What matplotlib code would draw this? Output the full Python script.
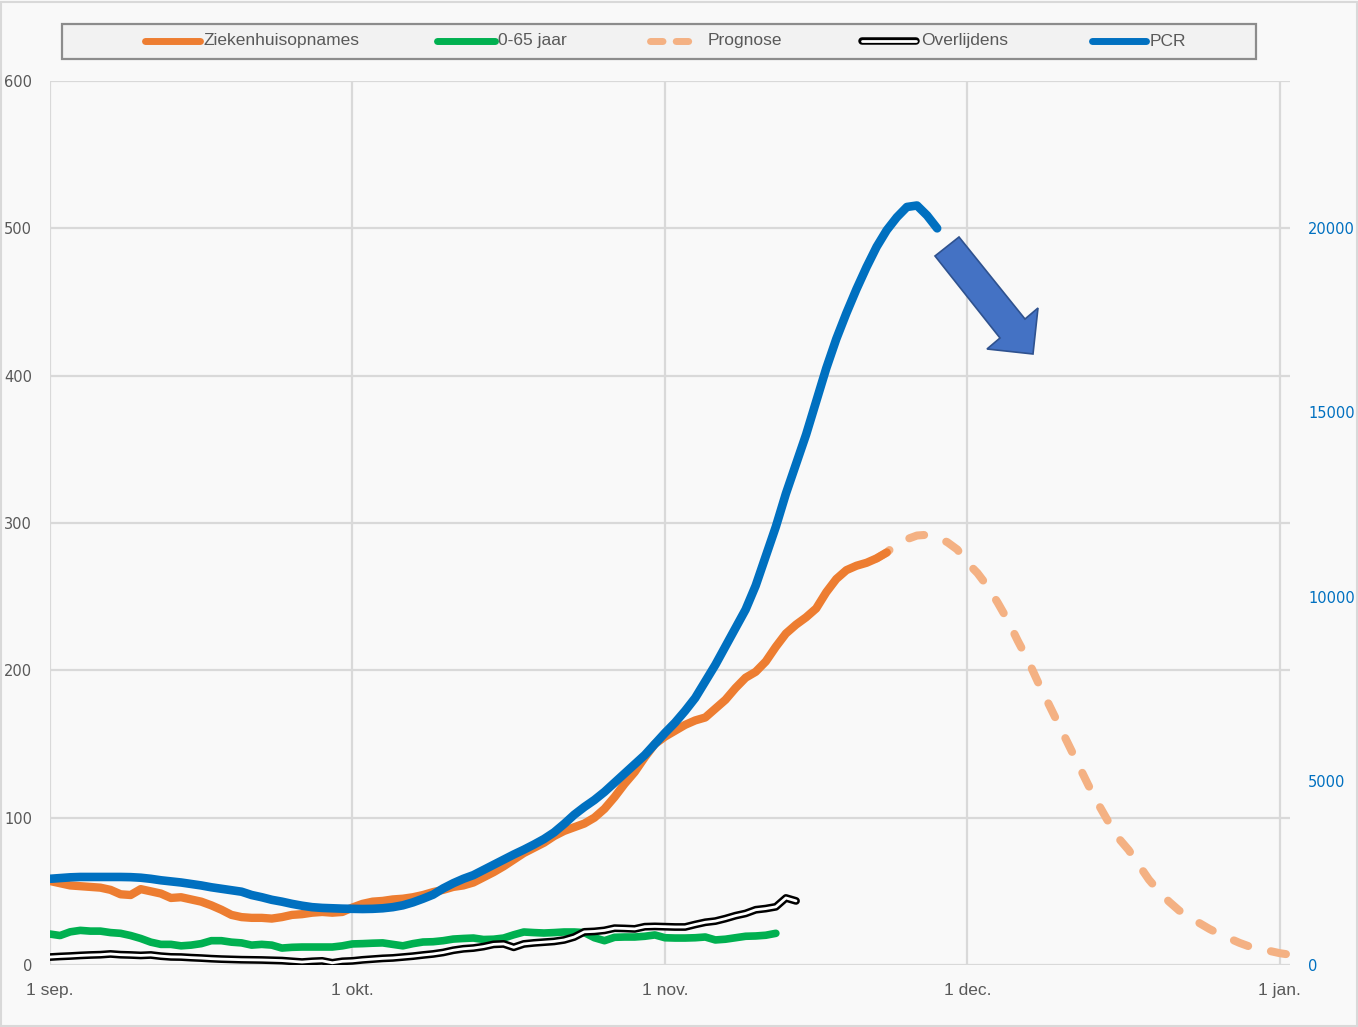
import numpy as np
import matplotlib
matplotlib.use("Agg")
import matplotlib.pyplot as plt
import matplotlib.patheffects as pe
from matplotlib.lines import Line2D
from matplotlib.patches import Polygon, Rectangle

# ── Data (day 0 = 1 sep.) ────────────────────────────────────────────────────
month_ticks = [0, 30, 61, 91, 122]
month_labels = ["1 sep.", "1 okt.", "1 nov.", "1 dec.", "1 jan."]

ziekenhuis = [
    57, 55.5, 54, 53.5, 53, 52.5, 51, 48, 47.5, 51.5,
    50, 48.5, 45.5, 46, 44.5, 43, 40.5, 37.5, 34, 32.5,
    32, 32, 31.5, 32.5, 34, 34.5, 35.5, 36, 35.5, 36,
    39, 41.5, 43, 43.5, 44.5, 45, 46, 47.5, 49.5, 51,
    53, 54, 56, 59.5, 63, 67, 71.5, 76, 79.5, 83,
    87.5, 91, 93.5, 96, 100, 106, 114, 123, 131, 141,
    150, 155, 159, 163, 166, 168, 174, 180, 188, 195,
    199, 206, 216, 225, 231, 236, 242, 253, 262, 268,
    271, 273, 276, 280,
]

prognose_start = 82
prognose = [
    276, 280, 286, 289, 291.5, 292, 290, 287, 282, 273,
    266, 257, 246, 234, 220, 207, 192, 178, 164, 150,
    136, 122, 109, 97, 86, 78, 68, 58, 50, 43,
    37, 33, 28.5, 24.5, 21, 18, 15, 12.5, 11, 9.5,
    8, 7,
]

jonger_65 = [
    21, 20, 22.5, 23.5, 23, 23, 22, 21.5, 20, 18,
    15.5, 14, 14, 13, 13.5, 14.5, 16.5, 16.5, 15.5, 15,
    13.5, 14, 13.5, 11.5, 12, 12.2, 12.2, 12.2, 12.2, 13,
    14.3, 14.5, 14.8, 15, 14, 13, 14.5, 15.6, 15.8, 16.5,
    17.6, 18, 18.3, 17.3, 17.5, 18.3, 20.5, 22.4, 22, 21.7,
    22, 22.4, 22.4, 22, 18.5, 16.5, 18.8, 19, 19, 19.5,
    20.4, 18.5, 18.3, 18.3, 18.5, 19, 17, 17.5, 18.5, 19.5,
    19.7, 20.2, 21.5,
]

overlijdens = [
    5.4, 5.8, 6.1, 6.5, 6.8, 7, 7.5, 7, 6.8, 6.5,
    6.8, 6, 5.5, 5.4, 5, 4.7, 4.3, 4, 3.8, 3.6,
    3.5, 3.4, 3.2, 3, 2.5, 2, 2.5, 2.8, 1.5, 2.5,
    2.8, 3.5, 4, 4.5, 4.8, 5.4, 6, 6.8, 7.5, 8.5,
    10, 11, 11.5, 12.5, 14, 14.3, 12, 14.3, 15, 15.5,
    16, 17, 19, 22.5, 22.8, 23.5, 25, 24.8, 24.5, 26,
    26.2, 26, 25.8, 25.8, 27.5, 29, 29.8, 31.5, 33.5, 35,
    37.5, 38.3, 39.5, 45.5, 43.5,
]

pcr = [
    2340, 2360, 2380, 2390, 2390, 2390, 2390, 2390, 2385, 2370,
    2340, 2300, 2270, 2240, 2200, 2160, 2110, 2070, 2030, 1990,
    1900, 1840, 1770, 1720, 1660, 1610, 1570, 1550, 1540, 1530,
    1525, 1520, 1525, 1540, 1570, 1620, 1700, 1800, 1910, 2080,
    2220, 2340, 2440, 2580, 2720, 2860, 3000, 3130, 3270, 3420,
    3600, 3830, 4080, 4290, 4480, 4700, 4950, 5200, 5450, 5700,
    6000, 6300, 6580, 6900, 7250, 7700, 8150, 8650, 9150, 9650,
    10300, 11100, 11900, 12800, 13600, 14400, 15300, 16200, 17000, 17700,
    18350, 18950, 19500, 19950, 20300, 20580, 20620, 20350, 20000,
]

# ── Colours ──────────────────────────────────────────────────────────────────
C_ORANGE = "#ED7D31"
C_PROG = "#F4B183"
C_GREEN = "#00B050"
C_BLUE = "#0070C0"
C_GRID = "#D9D9D9"
C_TEXT = "#595959"
BG = "#F9F9F9"
NARROW = ["Liberation Sans", "DejaVu Sans"]

W, H = 1358, 1027


def fx(px):
    return px / W


def fy(py):
    return 1 - py / H


fig = plt.figure(figsize=(W / 100, H / 100), dpi=100)
fig.patch.set_facecolor(BG)

ax = fig.add_axes([fx(50), fy(965), fx(1290) - fx(50), fy(81) - fy(965)])
ax.set_facecolor(BG)
ax2 = ax.twinx()
ax2.patch.set_visible(False)

for a in (ax, ax2):
    for s in a.spines.values():
        s.set_visible(False)

ax.set_xlim(0, 123)
ax.set_ylim(0, 600)
ax2.set_ylim(0, 24000)

# grid
ax.set_yticks(np.arange(0, 601, 100))
ax.set_xticks(month_ticks)
ax.grid(True, color=C_GRID, linewidth=1.6)
ax.set_axisbelow(True)

ax.set_xticklabels(month_labels, family=NARROW, fontsize=12.5, color=C_TEXT)
ax.tick_params(axis="x", length=0, pad=13)
ax.tick_params(axis="y", length=0, pad=13, labelsize=10.5, labelcolor=C_TEXT)

ax2.set_yticks(np.arange(0, 20001, 5000))
ax2.tick_params(axis="y", length=0, pad=13, labelsize=10.5, labelcolor=C_BLUE)

# ── Series ───────────────────────────────────────────────────────────────────
d_zkh = np.arange(len(ziekenhuis))
d_prog = np.arange(prognose_start, prognose_start + len(prognose))
d_green = np.arange(len(jonger_65))
d_dead = np.arange(len(overlijdens))
d_pcr = np.arange(len(pcr))

ax.plot(d_prog, prognose, color=C_PROG, lw=5.8, linestyle=(0, (1.9, 2.9)),
        dash_capstyle="round", zorder=3)
ax.plot(d_zkh, ziekenhuis, color=C_ORANGE, lw=6, solid_capstyle="round",
        solid_joinstyle="round", zorder=4)
ax.plot(d_green, jonger_65, color=C_GREEN, lw=5.5, solid_capstyle="round",
        solid_joinstyle="round", zorder=4)
ax.plot(d_dead, overlijdens, color="white", lw=2.0, solid_capstyle="round",
        path_effects=[pe.Stroke(linewidth=5.6, foreground="black",
                                capstyle="round", joinstyle="round"),
                      pe.Normal()], zorder=5)
ax2.plot(d_pcr, pcr, color=C_BLUE, lw=6.2, solid_capstyle="round",
         solid_joinstyle="round", zorder=6)

# ── Block arrow ──────────────────────────────────────────────────────────────
arrow_px = [(935, 256), (959, 237), (1025, 319), (1038, 308),
            (1033, 354), (987, 349), (1000, 338)]
fig.add_artist(Polygon([(fx(x), fy(y)) for x, y in arrow_px], closed=True,
                       transform=fig.transFigure, facecolor="#4472C4",
                       edgecolor="#2F528F", lw=1.2, zorder=10))

# ── Legend (drawn by hand to match spacing) ──────────────────────────────────
fig.add_artist(Rectangle((fx(62), fy(59)), fx(1256) - fx(62), fy(24) - fy(59),
                         transform=fig.transFigure, facecolor="#F2F2F2",
                         edgecolor="#8C8C8C", lw=1.6))
ly = fy(41)
legend_items = [
    (145, 200, 204, "Ziekenhuisopnames", dict(color=C_ORANGE, lw=5)),
    (437, 495, 498, "0-65 jaar", dict(color=C_GREEN, lw=5)),
    (650, 698, 708, "Prognose", dict(color=C_PROG, lw=5, linestyle=(0, (1.8, 1.9)),
                                      dash_capstyle="round")),
    (862, 916, 921, "Overlijdens", dict(color="white", lw=2.0)),
    (1092, 1146, 1150, "PCR", dict(color=C_BLUE, lw=5)),
]
for x0, x1, xt, label, style in legend_items:
    ln = Line2D([fx(x0), fx(x1)], [ly, ly], transform=fig.transFigure,
                solid_capstyle="round", **style)
    if label == "Overlijdens":
        ln.set_path_effects([pe.Stroke(linewidth=5.4, foreground="black",
                                       capstyle="round"), pe.Normal()])
    fig.add_artist(ln)
    fig.text(fx(xt), ly, label, family=NARROW, fontsize=12.5, color=C_TEXT,
             va="center", ha="left")

# chart area border
fig.add_artist(Rectangle((0.001, 0.001), 0.998, 0.997, transform=fig.transFigure,
                         fill=False, edgecolor=C_GRID, lw=1.5))

fig.savefig("out.png", dpi=100, facecolor=fig.get_facecolor())
